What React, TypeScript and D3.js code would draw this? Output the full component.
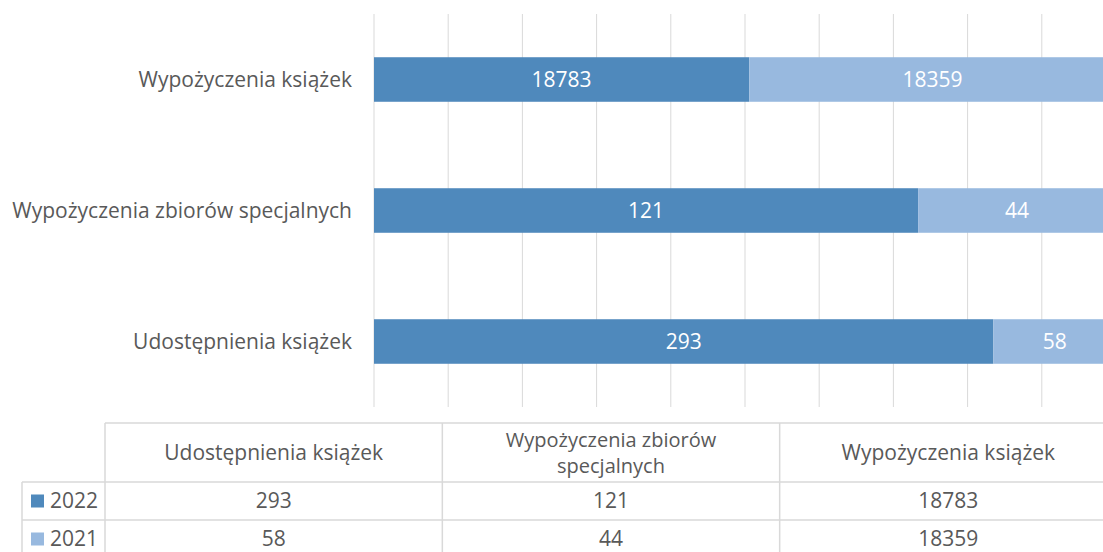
import React from 'react';
import * as d3 from 'd3';

// kategorie (od góry wykresu)
const categories = ['Wypożyczenia książek', 'Wypożyczenia zbiorów specjalnych', 'Udostępnienia książek'];
const series = ['2022', '2021'];
const values2022 = [18783, 121, 293];
const values2021 = [18359, 44, 58];
// tabela danych ma odwrotną kolejność
const tableHeaders = [['Udostępnienia książek'], ['Wypożyczenia zbiorów', 'specjalnych'], ['Wypożyczenia książek']];

const colors = ['#4F89BC', '#98B9DF'];
const textColor = '#595959';
const gridColor = '#D9D9D9';
const font = '"Open Sans", sans-serif';
const fs = 21;

const W = 1103;
const H = 552;

const App = () => {
  const x = d3.scaleLinear().domain([0, 1]).range([374, 1116]);
  const y = d3.scaleBand<string>().domain(categories).range([14, 407]).paddingInner(0.66).paddingOuter(0.33);

  const rows = categories.map((c, i) => {
    const total = values2022[i] + values2021[i];
    return { c, a: values2022[i], b: values2021[i], pa: values2022[i] / total };
  });

  // tabela
  const colX = d3.scaleLinear().domain([0, 3]).range([105, 1117]);
  const tTop = 423, hBottom = 482, r1 = 520, r2 = 558;
  const tableVals = [values2022.slice().reverse(), values2021.slice().reverse()];
  const rowY = [hBottom, r1, r2];

  return (
    <svg width={W} height={H} style={{ position: 'absolute', left: 0, top: 0 }} fontFamily={font}>
      <rect width={W} height={H} fill="#fff" />
      {/* siatka */}
      {x.ticks(10).map(t => (
        <line key={t} x1={x(t)} x2={x(t)} y1={14} y2={407} stroke={gridColor} strokeWidth={1} />
      ))}
      {/* słupki */}
      {rows.map(r => {
        const y0 = y(r.c)!;
        const bh = y.bandwidth();
        const mid = x(r.pa);
        return (
          <g key={r.c}>
            <rect x={x(0)} y={y0} width={mid - x(0)} height={bh} fill={colors[0]} />
            <rect x={mid} y={y0} width={x(1) - mid} height={bh} fill={colors[1]} />
            <text x={(x(0) + mid) / 2} y={y0 + bh / 2} dy="0.35em" textAnchor="middle" fill="#fff" fontSize={fs}>{r.a}</text>
            <text x={(mid + x(1)) / 2} y={y0 + bh / 2} dy="0.35em" textAnchor="middle" fill="#fff" fontSize={fs}>{r.b}</text>
            <text x={352} y={y0 + bh / 2} dy="0.35em" textAnchor="end" fill={textColor} fontSize={fs}>{r.c}</text>
          </g>
        );
      })}
      {/* tabela danych */}
      <g stroke={gridColor} strokeWidth={1.5}>
        <line x1={colX(0)} x2={colX(3)} y1={tTop} y2={tTop} />
        <line x1={22} x2={colX(3)} y1={hBottom} y2={hBottom} />
        <line x1={22} x2={colX(3)} y1={r1} y2={r1} />
        <line x1={22} x2={22} y1={hBottom} y2={H} />
        {[0, 1, 2, 3].map(i => (
          <line key={i} x1={colX(i)} x2={colX(i)} y1={tTop} y2={H} />
        ))}
      </g>
      {tableHeaders.map((h, i) => {
        const cx = (colX(i) + colX(i + 1)) / 2;
        const cy = (tTop + hBottom) / 2;
        const lh = 26;
        return (
          <text key={i} textAnchor="middle" fill={textColor} fontSize={h.length > 1 ? 20 : fs}>
            {h.map((line, j) => (
              <tspan key={j} x={cx} y={cy + (j - (h.length - 1) / 2) * lh} dy="0.35em">{line}</tspan>
            ))}
          </text>
        );
      })}
      {series.map((s, si) => {
        const cy = (rowY[si] + rowY[si + 1]) / 2;
        return (
          <g key={s}>
            <rect x={31} y={cy - 6.5} width={13} height={13} fill={colors[si]} />
            <text x={50} y={cy} dy="0.35em" fill={textColor} fontSize={fs}>{s}</text>
            {tableVals[si].map((v, i) => (
              <text key={i} x={(colX(i) + colX(i + 1)) / 2} y={cy} dy="0.35em" textAnchor="middle" fill={textColor} fontSize={fs}>{v}</text>
            ))}
          </g>
        );
      })}
    </svg>
  );
};

export default App;
